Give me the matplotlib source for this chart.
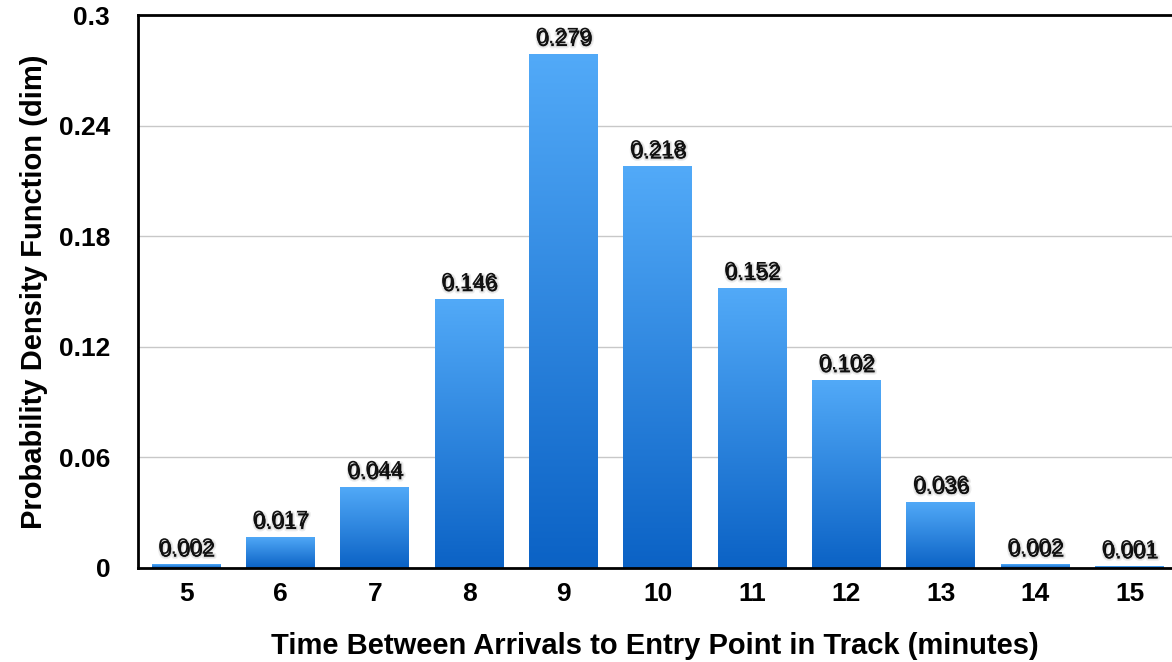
import numpy as np
import matplotlib
matplotlib.use("Agg")
import matplotlib.pyplot as plt
import matplotlib.patheffects as pe
from matplotlib.colors import LinearSegmentedColormap

# Data
minutes = [5, 6, 7, 8, 9, 10, 11, 12, 13, 14, 15]
pdf_values = [0.002, 0.017, 0.044, 0.146, 0.279, 0.218, 0.152, 0.102, 0.036, 0.002, 0.001]
y_ticks = [0, 0.06, 0.12, 0.18, 0.24, 0.3]
y_tick_labels = ["0", "0.06", "0.12", "0.18", "0.24", "0.3"]

plt.rcParams["font.family"] = ["Liberation Sans", "DejaVu Sans"]

fig = plt.figure(figsize=(11.72, 6.62), dpi=100)
ax = fig.add_axes([0.1177, 0.142, 0.8823, 0.8353])

bar_w = 0.73
grad = LinearSegmentedColormap.from_list("blue", ["#0b62c5", "#52aaf8"])
gradient = np.linspace(0, 1, 256).reshape(-1, 1)

bars = ax.bar(minutes, pdf_values, width=bar_w, color="none", edgecolor="none", zorder=2)
for b in bars:
    x0, y0 = b.get_x(), b.get_y()
    w, h = b.get_width(), b.get_height()
    im = ax.imshow(gradient, cmap=grad, aspect="auto", origin="lower",
                   extent=[x0, x0 + w, y0, y0 + h], zorder=2)
    im.set_clip_path(b)

# soft drop shadow under the value labels
shadow = [pe.Stroke(linewidth=3.5, foreground=(0, 0, 0, 0.07), offset=(1, -2)),
          pe.Stroke(linewidth=1.5, foreground=(0, 0, 0, 0.10), offset=(1, -2)),
          pe.Normal()]
for x, v in zip(minutes, pdf_values):
    ax.annotate(f"{v:.3f}", (x, v), xytext=(0, 4), textcoords="offset points",
                ha="center", va="bottom", fontsize=16, color="#111111",
                path_effects=shadow, zorder=4)

ax.set_xlim(4.49, 15.45)
ax.set_ylim(0, 0.3)
ax.set_xticks(minutes)
ax.set_xticklabels([str(m) for m in minutes], fontsize=19, fontweight="bold")
ax.set_yticks(y_ticks)
ax.set_yticklabels(y_tick_labels, fontsize=19, fontweight="bold")
ax.tick_params(axis="both", length=0)
ax.tick_params(axis="y", pad=20)
ax.tick_params(axis="x", pad=10)

ax.yaxis.grid(True, color="#c8c8c8", linewidth=1)
ax.set_axisbelow(True)

for side in ["left", "bottom", "top"]:
    ax.spines[side].set_linewidth(2)
    ax.spines[side].set_color("black")
ax.spines["right"].set_visible(False)

ax.set_xlabel("Time Between Arrivals to Entry Point in Track (minutes)",
              fontsize=21, fontweight="bold", labelpad=19)
ax.set_ylabel("Probability Density Function (dim)", fontsize=21, fontweight="bold", labelpad=8)

fig.savefig("out.png", dpi=100)
